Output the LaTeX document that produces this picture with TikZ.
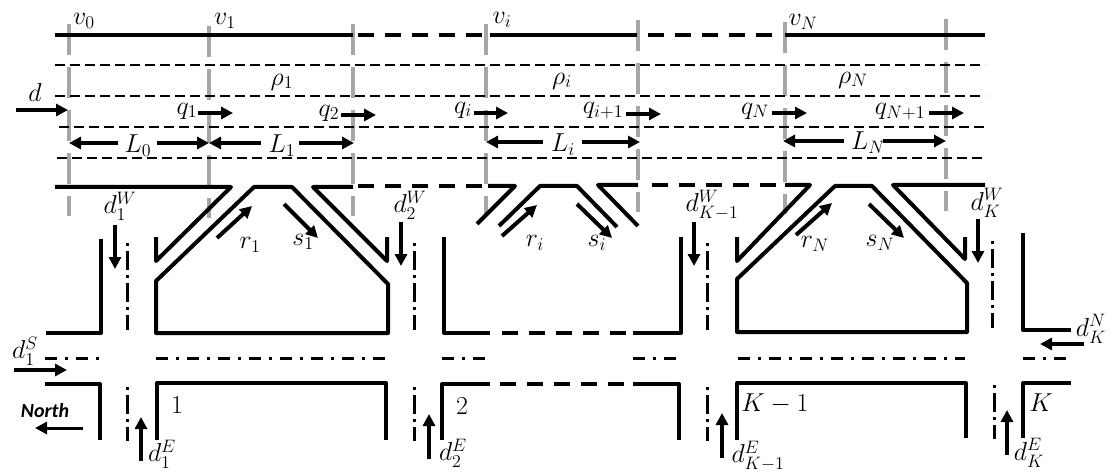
\documentclass[tikz,border=0pt]{standalone}
\usepackage{amsmath}
\usepackage{amssymb}
\usepackage{xcolor}
\usepackage{fontspec}
\usepackage{tikz}
\usetikzlibrary{arrows.meta}
\newfontfamily\northfont{Carlito}
\DeclareMathSizes{20.74}{20.74}{14.4}{10}
\definecolor{gategray}{HTML}{A6A6A6}
\tikzset{
  road/.style={line width=4pt, line join=round},
  broken/.style={road, dash pattern=on 16pt off 11pt},
  cell/.style={line width=2pt, dash pattern=on 10pt off 5pt},
  gate/.style={line width=4pt, color=gategray, dash pattern=on 31pt off 12pt},
  midline/.style={line width=3pt, dash pattern=on 12pt off 8pt on 3pt off 8pt},
  crossline/.style={line width=3pt, dash pattern=on 3pt off 5pt on 19pt off 5pt},
  flow/.style={line width=4pt, -{Triangle[length=12pt,width=12pt]}},
  lab/.style={inner sep=0pt, scale=1.25, font=\fontsize{20.74}{20.74}\selectfont}
}
\begin{document}
\begin{tikzpicture}[x=1pt, y=-1pt]
  \useasboundingbox (0,0) rectangle (1112,476);

  \foreach \x/\y in {69/24,209/26,353/24,486/24,638/20,785/22,946/19}
    \draw [gate] (\x,\y) -- (\x,\y+192);
  \foreach \x/\y in {55/65,55/96,59/127,57/158}
    \draw [cell] (\x,\y) -- (985,\y);

  \draw [road] (55,35.5) -- (353,35.5);
  \draw [broken] (358,35.5) -- (483,35.5);
  \draw [road] (490,35.5) -- (637,35.5);
  \draw [broken] (648,35.5) -- (774,35.5);
  \draw [road] (785,35.5) -- (985,35.5);

  \draw [road] (55,187) -- (231,187) -- (156,261) -- (156,237);
  \draw [road] (254,187) -- (156,281) -- (156,333) -- (388,333) -- (388,284) -- (292,187) -- cycle;
  \draw [road] (353,187) -- (313,187) -- (387,261) -- (387,237);
  \draw [broken] (358,186) -- (483,186);
  \draw [road] (488,186) -- (515,186) -- (477,224);
  \draw [road] (499,226) -- (540,186) -- (577,186) -- (617,227);
  \draw [road] (638,185) -- (598,185) -- (638,226);
  \draw [broken] (652,185) -- (777,185);
  \draw [road] (785,185) -- (810,185) -- (737,261) -- (737,237);
  \draw [road] (835,186) -- (737,279) -- (737,332) -- (967,332) -- (967,283) -- (872,186) -- cycle;
  \draw [road] (985,185) -- (893,185) -- (965,259) -- (965,237);

  \draw [road] (46,333) -- (101,333) -- (101,239);
  \draw [road] (444,237) -- (444,333) -- (490,333);
  \draw [broken] (502,333) -- (627,333);
  \draw [road] (633,333) -- (681,333) -- (681,237);
  \draw [road] (1023,233) -- (1023,330) -- (1071,330);

  \draw [road] (45,384) -- (100,384) -- (100,440);
  \draw [road] (157,440) -- (157,383) -- (386,383) -- (386,440);
  \draw [road] (442,440) -- (442,384) -- (490,384);
  \draw [broken] (500,384) -- (625,384);
  \draw [road] (633,384) -- (679,384) -- (679,440);
  \draw [road] (737,440) -- (737,383) -- (966,383) -- (966,438);
  \draw [road] (1023,438) -- (1023,383) -- (1071,383);

  \foreach \xa/\xb in {45/101,156/388,442/485,633/677,738/965,1023/1067}
    \draw [midline] (\xa,358) -- (\xb,358);
  \foreach \x/\y in {127/243,414.5/243,707/243,992.5/241}
    \draw [crossline] (\x,\y) -- (\x,\y+87);
  \foreach \x/\y in {127/387,414.5/387,707/387,994.5/385}
    \draw [crossline] (\x,\y) -- (\x,\y+54);

  \draw [flow] (16,110) -- (68,110);
  \draw [flow] (198,113) -- (233,113);
  \draw [flow] (341,115) -- (376,115);
  \draw [flow] (474,113) -- (508,113);
  \draw [flow] (626,114) -- (661,114);
  \draw [flow] (772,113) -- (807,113);
  \draw [flow] (929,113) -- (964,113);

  \draw [flow] (118,143) -- (69,143);
  \draw [flow] (157,143) -- (209,143);
  \draw [flow] (261,143) -- (209,143);
  \draw [flow] (299,143) -- (354,143);
  \draw [flow] (543,142) -- (486,142);
  \draw [flow] (582,142) -- (640,142);
  \draw [flow] (844,141) -- (783,141);
  \draw [flow] (883,141) -- (946,141);

  \draw [flow] (217,238) -- (252,206);
  \draw [flow] (284,204) -- (318,238);
  \draw [flow] (502,236) -- (537,205);
  \draw [flow] (577,204) -- (612,238);
  \draw [flow] (796,235) -- (832,203);
  \draw [flow] (869,204) -- (904,238);

  \draw [flow] (115,225) -- (115,269);
  \draw [flow] (401,222) -- (401,266);
  \draw [flow] (694,222) -- (694,266);
  \draw [flow] (978,219) -- (978,263);
  \draw [flow] (141,461) -- (141,417);
  \draw [flow] (429,459) -- (429,414);
  \draw [flow] (722,458) -- (722,413);
  \draw [flow] (1007,455) -- (1007,410);
  \draw [flow] (14,370) -- (67,370);
  \draw [flow] (1084,344) -- (1040,344);
  \draw [flow, line width=3pt] (83,428) -- (35,428);

  \node [lab] (v0) at (84,21) {$v_0$};
  \node [lab] (v1) at (225,21) {$v_1$};
  \node [lab] (vi) at (502,20) {$v_i$};
  \node [lab] (vN) at (803,22) {$v_N$};
  \node [lab] (rho1) at (282,82) {$\rho_1$};
  \node [lab] (rhoi) at (562,81) {$\rho_i$};
  \node [lab] (rhoN) at (853,80) {$\rho_N$};
  \node [lab] (dmain) at (35,92) {$d$};
  \node [lab] (q1) at (187,111) {$q_1$};
  \node [lab] (q2) at (329,113) {$q_2$};
  \node [lab] (qi) at (463,110) {$q_i$};
  \node [lab] (qi1) at (603,111) {$q_{i+1}$};
  \node [lab] (qN) at (755,111) {$q_N$};
  \node [lab] (qN1) at (900,112) {$q_{N+1}$};
  \node [lab] (L0) at (138,146) {$L_0$};
  \node [lab] (L1) at (282,146) {$L_1$};
  \node [lab] (Li) at (563,145) {$L_i$};
  \node [lab] (LN) at (868,143) {$L_N$};
  \node [lab] (r1) at (250,245) {$r_1$};
  \node [lab] (s1) at (303,242) {$s_1$};
  \node [lab] (ri) at (535,243) {$r_i$};
  \node [lab] (si) at (597,243) {$s_i$};
  \node [lab] (rN) at (815,244) {$r_N$};
  \node [lab] (sN) at (880,243) {$s_N$};
  \node [lab] (d1W) at (120,206) {$d_1^W$};
  \node [lab] (d2W) at (410,205) {$d_2^W$};
  \node [lab] (dKmW) at (712,205) {$d_{K-1}^W$};
  \node [lab] (dKW) at (987,203) {$d_K^W$};
  \node [lab] (d1S) at (25,351) {$d_1^S$};
  \node [lab] (dKN) at (1091,329) {$d_K^N$};
  \node [lab] (d1E) at (162,454) {$d_1^E$};
  \node [lab] (d2E) at (453,453) {$d_2^E$};
  \node [lab] (dKmE) at (758,456) {$d_{K-1}^E$};
  \node [lab] (dKE) at (1029,453) {$d_K^E$};
  \node [lab] (cell1) at (177,405) {$1$};
  \node [lab] (cell2) at (462,406) {$2$};
  \node [lab] (cellKm) at (775,404) {$K-1$};
  \node [lab] (cellK) at (1041,403) {$K$};
  \node [inner sep=0pt, font=\northfont\bfseries\itshape\fontsize{20}{20}\selectfont] (north) at (45,411) {North};
\end{tikzpicture}
\end{document}
